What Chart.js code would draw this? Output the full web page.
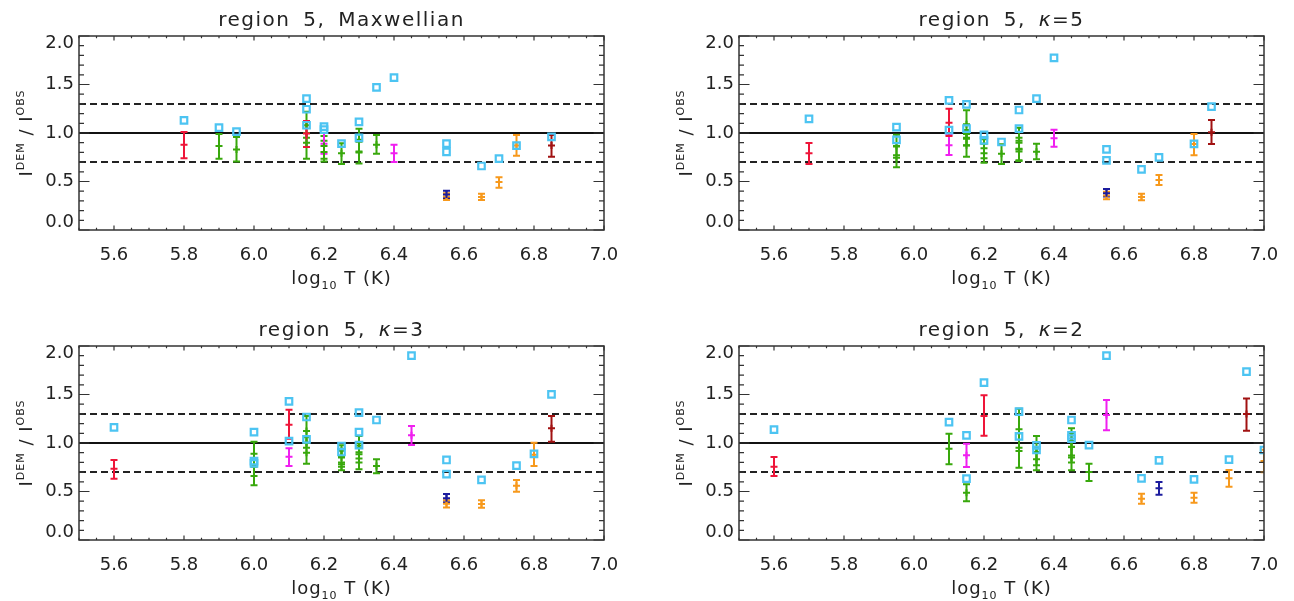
<!DOCTYPE html>
<html>
<head>
<meta charset="utf-8">
<title>region 5 - I DEM / I OBS</title>
<script src="https://cdn.jsdelivr.net/npm/chart.js@4.4.1/dist/chart.umd.min.js"></script>
<style>
  body { margin: 0; background: #fff; }
  #wrap { position: relative; width: 1294px; height: 601px; overflow: hidden; }
  #wrap canvas { position: absolute; }
</style>
</head>
<body>
<div id="wrap">
  <canvas id="c1" width="647" height="300" style="left:0;top:0"></canvas>
  <canvas id="c2" width="647" height="300" style="left:647px;top:0"></canvas>
  <canvas id="c3" width="647" height="301" style="left:0;top:300px"></canvas>
  <canvas id="c4" width="647" height="301" style="left:647px;top:300px"></canvas>
</div>
<script>
// axes
const xTicks = [5.6, 5.8, 6.0, 6.2, 6.4, 6.6, 6.8, 7.0];
const yTicks = [0.0, 0.5, 1.0, 1.5, 2.0];
const refLines = [1.0, 1.3, 0.7];
const panelTitles = ["region 5, Maxwellian", "region 5, κ=5", "region 5, κ=3", "region 5, κ=2"];

// squares: [logT, ratio]   error bars: [logT, ratio, low, high]
// --- Maxwellian
const maxwSquares = [[5.8,1.13],[5.9,1.055],[5.95,1.015],[6.15,1.355],[6.15,1.245],[6.15,1.08],[6.2,1.065],[6.2,1.035],
  [6.25,0.89],[6.3,1.115],[6.3,0.95],[6.35,1.47],[6.4,1.57],[6.55,0.89],[6.55,0.805],[6.65,0.66],[6.7,0.735],[6.75,0.87],[6.85,0.96]];
const maxwRed = [[5.8,0.88,0.74,1.01],[6.15,0.995,0.856,1.124]];
const maxwGreen = [[5.9,0.865,0.735,0.99],[5.95,0.83,0.705,0.96],[6.15,1.08,0.95,1.22],[6.15,0.9,0.735,1.0],
  [6.2,0.865,0.735,0.97],[6.2,0.805,0.705,0.92],[6.25,0.79,0.68,0.895],[6.3,0.93,0.81,1.045],[6.3,0.8,0.685,0.91],[6.35,0.88,0.785,0.98]];
const maxwMagenta = [[6.2,0.89,0.785,1.0],[6.4,0.79,0.7,0.88]];
const maxwNavy = [[6.55,0.365,0.33,0.405]];
const maxwOrange = [[6.55,0.345,0.31,0.38],[6.65,0.34,0.31,0.375],[6.7,0.495,0.435,0.545],[6.75,0.87,0.765,0.98]];
const maxwDarkRed = [[6.85,0.87,0.755,0.98]];

// --- kappa = 5
const k5Squares = [[5.7,1.145],[5.95,1.06],[5.95,0.93],[6.1,1.337],[6.1,1.03],[6.15,1.296],[6.15,1.045],[6.2,0.98],[6.2,0.925],
  [6.25,0.907],[6.3,1.237],[6.3,1.045],[6.35,1.354],[6.4,1.775],[6.55,0.832],[6.55,0.718],[6.65,0.625],[6.7,0.749],[6.8,0.887],[6.85,1.271]];
const k5Red = [[5.7,0.79,0.68,0.897],[6.1,1.106,0.969,1.25]];
const k5Green = [[5.95,0.866,0.77,0.983],[5.95,0.746,0.646,0.86],[6.15,1.09,0.95,1.234],[6.15,0.941,0.87,1.03],[6.15,0.873,0.756,0.99],
  [6.2,0.842,0.74,0.935],[6.2,0.79,0.694,0.89],[6.25,0.787,0.68,0.883],[6.3,0.95,0.83,1.055],[6.3,0.838,0.711,0.92],[6.3,0.81,0.72,0.9],
  [6.35,0.807,0.729,0.89]];
const k5Magenta = [[6.1,0.873,0.773,0.985],[6.4,0.945,0.859,1.034]];
const k5Navy = [[6.55,0.38,0.345,0.423]];
const k5Orange = [[6.55,0.355,0.316,0.395],[6.65,0.34,0.306,0.375],[6.7,0.515,0.464,0.567],[6.8,0.887,0.77,0.99]];
const k5DarkRed = [[6.85,1.007,0.887,1.134]];

// --- kappa = 3
const k3Squares = [[5.6,1.162],[6.0,1.113],[6.0,0.814],[6.0,0.79],[6.1,1.43],[6.1,1.02],[6.15,1.268],[6.15,1.038],[6.25,0.969],[6.25,0.907],
  [6.3,1.313],[6.3,1.113],[6.3,0.979],[6.35,1.237],[6.45,1.9],[6.55,0.825],[6.55,0.68],[6.65,0.619],[6.75,0.766],[6.8,0.887],[6.85,1.502]];
const k3Red = [[5.6,0.735,0.632,0.825],[6.1,1.188,1.044,1.343]];
const k3Green = [[6.0,0.89,0.77,1.013],[6.0,0.66,0.564,0.756],[6.15,1.124,1.0,1.278],[6.15,1.003,0.95,1.06],[6.15,0.9,0.787,1.0],
  [6.25,0.92,0.86,0.976],[6.25,0.85,0.78,0.93],[6.25,0.756,0.718,0.8],[6.3,0.975,0.885,1.072],[6.3,0.905,0.8,1.0],[6.3,0.84,0.729,0.95],
  [6.35,0.763,0.687,0.832]];
const k3Magenta = [[6.1,0.859,0.763,0.945],[6.45,1.079,0.979,1.175]];
const k3Navy = [[6.55,0.43,0.39,0.475]];
const k3Orange = [[6.55,0.375,0.335,0.41],[6.65,0.37,0.333,0.409],[6.75,0.56,0.498,0.619],[6.8,0.88,0.763,1.003]];
const k3DarkRed = [[6.85,1.151,1.013,1.278]];

// --- kappa = 2
const k2Squares = [[5.6,1.137],[6.1,1.216],[6.15,1.079],[6.15,0.632],[6.2,1.622],[6.3,1.323],[6.3,1.068],[6.35,0.976],[6.35,0.928],
  [6.45,1.237],[6.45,1.079],[6.45,1.045],[6.5,0.979],[6.55,1.9],[6.65,0.636],[6.7,0.821],[6.8,0.626],[6.9,0.828],[6.95,1.735],[7.0,0.928]];
const k2Red = [[5.6,0.756,0.66,0.856],[6.2,1.278,1.075,1.491]];
const k2Green = [[6.1,0.941,0.78,1.096],[6.15,0.488,0.399,0.574],[6.3,1.141,0.95,1.354],[6.3,0.918,0.746,1.1],[6.35,0.907,0.77,1.072],
  [6.35,0.832,0.718,0.95],[6.45,1.02,0.87,1.151],[6.45,0.962,0.8,1.1],[6.45,0.85,0.718,0.96],[6.5,0.701,0.608,0.787]];
const k2Magenta = [[6.15,0.873,0.753,0.993],[6.55,1.289,1.131,1.443]];
const k2Navy = [[6.7,0.533,0.467,0.598]];
const k2Orange = [[6.65,0.426,0.374,0.477],[6.8,0.436,0.385,0.488],[6.9,0.636,0.55,0.722],[7.0,0.815,0.698,0.93]];
const k2DarkRed = [[6.95,1.299,1.127,1.46]];

const squareColor = "#4cc4f2";
const colors = { green: "#38a80c", navy: "#1c1c9e", orange: "#f7991c", magenta: "#f01ff0", red: "#ee1539", darkred: "#a11212" };
const textColor = "#222";
const FONT = "'DejaVu Sans', sans-serif";

// canvas id, title, data, padding -> chart area
const panels = [
  { id: "c1", title: panelTitles[0], squares: maxwSquares,
    bars: { green: maxwGreen, navy: maxwNavy, orange: maxwOrange, magenta: maxwMagenta, red: maxwRed, darkred: maxwDarkRed },
    pad: { left: 79, right: 43, top: 36, bottom: 70 } },
  { id: "c2", title: panelTitles[1], squares: k5Squares,
    bars: { green: k5Green, navy: k5Navy, orange: k5Orange, magenta: k5Magenta, red: k5Red, darkred: k5DarkRed },
    pad: { left: 92, right: 30, top: 36, bottom: 70 } },
  { id: "c3", title: panelTitles[2], squares: k3Squares,
    bars: { green: k3Green, navy: k3Navy, orange: k3Orange, magenta: k3Magenta, red: k3Red, darkred: k3DarkRed },
    pad: { left: 79, right: 43, top: 46, bottom: 61 } },
  { id: "c4", title: panelTitles[3], squares: k2Squares,
    bars: { green: k2Green, navy: k2Navy, orange: k2Orange, magenta: k2Magenta, red: k2Red, darkred: k2DarkRed },
    pad: { left: 92, right: 30, top: 46, bottom: 61 } },
];

// draw pieces of text one after the other: [text, size, dy, italic]
function drawPieces(ctx, parts, x, y, align) {
  let total = 0;
  parts.forEach(p => {
    ctx.font = (p[3] ? "italic " : "") + p[1] + "px " + FONT;
    p.w = ctx.measureText(p[0]).width;
    total += p.w;
  });
  let cx = align === "center" ? x - total / 2 : x;
  ctx.textAlign = "left";
  parts.forEach(p => {
    ctx.font = (p[3] ? "italic " : "") + p[1] + "px " + FONT;
    ctx.fillText(p[0], cx, y + p[2]);
    cx += p.w;
  });
}

const errorBars = {
  id: "errorBars",
  beforeDatasetsDraw(chart) {
    const { ctx, chartArea: a, scales: { x, y } } = chart;
    ctx.save();
    ctx.beginPath();
    ctx.rect(a.left, a.top, a.right - a.left, a.bottom - a.top);
    ctx.clip();
    // 1.0 solid, 1.3 / 0.7 dashed
    refLines.forEach((v, i) => {
      const py = y.getPixelForValue(v);
      ctx.beginPath();
      ctx.setLineDash(i === 0 ? [] : [7, 4]);
      ctx.lineWidth = 2;
      ctx.strokeStyle = i === 0 ? "#111" : "#222";
      ctx.moveTo(a.left, py);
      ctx.lineTo(a.right, py);
      ctx.stroke();
    });
    ctx.setLineDash([]);
    chart.data.datasets.forEach(ds => {
      if (!ds.bars) return;
      ctx.strokeStyle = ds.borderColor;
      ctx.lineWidth = 2;
      ds.bars.forEach(b => {
        const px = x.getPixelForValue(b[0]);
        const lo = y.getPixelForValue(b[2]);
        const hi = y.getPixelForValue(b[3]);
        ctx.beginPath();
        ctx.moveTo(px, lo); ctx.lineTo(px, hi);
        ctx.moveTo(px - 3.5, lo); ctx.lineTo(px + 3.5, lo);
        ctx.moveTo(px - 3.5, hi); ctx.lineTo(px + 3.5, hi);
        ctx.stroke();
      });
    });
    ctx.restore();
  },
  afterDraw(chart) {
    const { ctx, chartArea: a, scales: { x, y } } = chart;
    const title = chart.options.plugins.panelTitle;
    ctx.save();
    // box
    ctx.strokeStyle = "#333";
    ctx.lineWidth = 1.5;
    ctx.strokeRect(a.left, a.top, a.right - a.left, a.bottom - a.top);
    // inward ticks
    ctx.lineWidth = 1.2;
    ctx.beginPath();
    for (let i = 0; i <= 30; i++) {
      const v = 5.5 + i * 0.05;
      const px = x.getPixelForValue(v);
      const len = (i % 4 === 2) ? 4.5 : 2.2;
      ctx.moveTo(px, a.bottom); ctx.lineTo(px, a.bottom - len);
      ctx.moveTo(px, a.top); ctx.lineTo(px, a.top + len);
    }
    for (let i = 0; i <= 20; i++) {
      const py = y.getPixelForValue(i * 0.1);
      const len = (i % 5 === 0) ? 10.5 : 5;
      ctx.moveTo(a.left, py); ctx.lineTo(a.left + len, py);
      ctx.moveTo(a.right, py); ctx.lineTo(a.right - len, py);
    }
    ctx.stroke();

    ctx.fillStyle = textColor;
    ctx.font = "18px " + FONT;
    ctx.textBaseline = "alphabetic";
    ctx.textAlign = "center";
    xTicks.forEach(v => ctx.fillText(v.toFixed(1), x.getPixelForValue(v), a.bottom + 30));
    ctx.textAlign = "right";
    ctx.textBaseline = "middle";
    yTicks.forEach(v => {
      let py = y.getPixelForValue(v);
      if (v === 2.0) py += 7.5;
      if (v === 0.0) py -= 8;
      ctx.fillText(v.toFixed(1), a.left - 5, py);
    });

    ctx.textBaseline = "alphabetic";
    const mid = (a.left + a.right) / 2;
    // x axis title
    ctx.letterSpacing = "1px";
    drawPieces(ctx, [["log", 18, 0], ["10", 11, 5], [" T (K)", 18, 0]], mid, a.bottom + 54, "center");

    // panel title, kappa in italic
    ctx.letterSpacing = "1.5px";
    ctx.wordSpacing = "5px";
    const k = title.indexOf("κ");
    const parts = k < 0 ? [[title, 20, 0]] : [[title.slice(0, k), 20, 0], ["κ", 20, 0, true], [title.slice(k + 1), 20, 0]];
    drawPieces(ctx, parts, mid, a.top - 10, "center");
    ctx.wordSpacing = "0px";

    // y axis title, rotated
    ctx.letterSpacing = "1px";
    ctx.translate(a.left - 54, (a.top + a.bottom) / 2);
    ctx.rotate(-Math.PI / 2);
    drawPieces(ctx, [["I", 18, 0], ["DEM", 11, -8], [" / ", 18, 0], ["I", 18, 0], ["OBS", 11, -8]], 0, 6.5, "center");
    ctx.restore();
  }
};

panels.forEach(p => {
  const datasets = [{
    label: "observed",
    data: p.squares.map(s => ({ x: s[0], y: s[1] })),
    pointStyle: "rect",
    pointRadius: 4.6,
    borderWidth: 2.2,
    borderColor: squareColor,
    backgroundColor: "rgba(0,0,0,0)",
    clip: 0,
  }];
  Object.keys(p.bars).forEach(name => {
    datasets.push({
      label: name,
      data: p.bars[name].map(b => ({ x: b[0], y: b[1] })),
      bars: p.bars[name],
      pointStyle: "cross",
      pointRadius: 3.5,
      borderWidth: 2,
      borderColor: colors[name],
      backgroundColor: colors[name],
      clip: 0,
    });
  });

  new Chart(document.getElementById(p.id), {
    type: "scatter",
    data: { datasets },
    options: {
      responsive: false,
      animation: false,
      devicePixelRatio: 1,
      events: [],
      layout: { padding: p.pad },
      scales: {
        x: { type: "linear", min: 5.5, max: 7.0, display: false },
        y: { type: "linear", min: 0, max: 2.0, display: false },
      },
      plugins: {
        legend: { display: false },
        tooltip: { enabled: false },
        panelTitle: p.title,
      },
    },
    plugins: [errorBars],
  });
});
</script>
</body>
</html>
